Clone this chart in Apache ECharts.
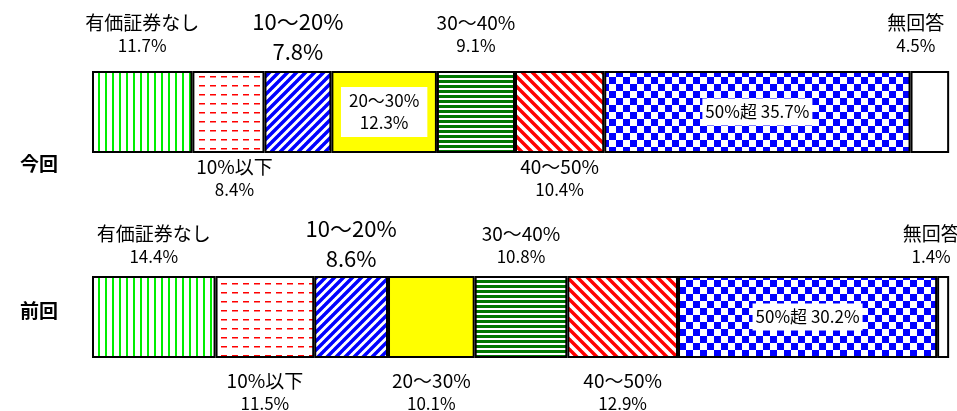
<html lang="ja">
  <head>
    <meta charset="UTF-8" />
    <title>有価証券の割合</title>
    <style>
      html, body { margin: 0; padding: 0; background: #fff; }
    </style>
  </head>
  <body>
    <div id="main" style="width: 957px; height: 411px"></div>

    <script src="https://cdnjs.cloudflare.com/ajax/libs/echarts/6.0.0/echarts.min.js"></script>
    <script>
      let categories = ['今回', '前回']
      let seriesNames = ['有価証券なし', '10%以下', '10～20%', '20～30%', '30～40%', '40～50%', '50%超', '無回答']
      let nowData = [11.7, 8.4, 7.8, 12.3, 9.1, 10.4, 35.7, 4.5]
      let prevData = [14.4, 11.5, 8.6, 10.1, 10.8, 12.9, 30.2, 1.4]
      // ラベルの置き場所
      let nowPlace = ['top', 'bottom', 'top', 'inside', 'top', 'bottom', 'inline', 'top']
      let prevPlace = ['top', 'bottom', 'top', 'bottom', 'top', 'bottom', 'inline', 'top']

      const FONT = '"Noto Sans CJK JP", sans-serif'

      function makeTile(w, h, draw) {
        let c = document.createElement('canvas')
        c.width = w
        c.height = h
        let ctx = c.getContext('2d')
        ctx.fillStyle = '#fff'
        ctx.fillRect(0, 0, w, h)
        draw(ctx, w, h)
        return { image: c, repeat: 'repeat' }
      }

      function diag(ctx, s, color, lw, dir) {
        ctx.strokeStyle = color
        ctx.lineWidth = lw
        ctx.beginPath()
        if (dir > 0) {
          ctx.moveTo(-1, s + 1); ctx.lineTo(s + 1, -1)
          ctx.moveTo(-1, 1); ctx.lineTo(1, -1)
          ctx.moveTo(s - 1, s + 1); ctx.lineTo(s + 1, s - 1)
        } else {
          ctx.moveTo(-1, -1); ctx.lineTo(s + 1, s + 1)
          ctx.moveTo(s - 1, -1); ctx.lineTo(s + 1, 1)
          ctx.moveTo(-1, s - 1); ctx.lineTo(1, s + 1)
        }
        ctx.stroke()
      }

      let fills = [
        makeTile(7, 7, (ctx) => { ctx.fillStyle = '#00ee00'; ctx.fillRect(0, 0, 2, 7) }),
        makeTile(11, 9, (ctx) => { ctx.fillStyle = '#ff0000'; ctx.fillRect(1, 4, 6, 1.5) }),
        makeTile(9, 9, (ctx, s) => diag(ctx, s, '#0000ff', 3.5, 1)),
        '#ffff00',
        makeTile(6, 5, (ctx) => { ctx.fillStyle = '#007800'; ctx.fillRect(0, 0, 6, 3) }),
        makeTile(10, 10, (ctx, s) => diag(ctx, s, '#ff0000', 3.5, -1)),
        makeTile(14, 14, (ctx) => { ctx.fillStyle = '#0000ff'; ctx.fillRect(0, 0, 7, 7); ctx.fillRect(7, 7, 7, 7) }),
        '#ffffff'
      ]

      function labelFor(si, value, place, row) {
        let name = seriesNames[si]
        let big = si === 2
        let rich = {
          n: { fontFamily: FONT, fontSize: big ? 22 : 19, lineHeight: big ? 30 : 23, color: '#000' },
          v: { fontFamily: FONT, fontSize: big ? 22 : 17, lineHeight: big ? 30 : 23, color: '#000' }
        }
        let label = {
          show: true,
          rich: rich,
          formatter: '{n|' + name + '}\n{v|' + value + '%}'
        }
        if (place === 'top') {
          label.position = 'top'
          label.distance = big ? (row === 0 ? 4 : 2) : (row === 0 ? 14 : 8)
          if (si === 7) label.offset = [row === 0 ? -14 : -12, 0]
        } else if (place === 'bottom') {
          label.position = 'bottom'
          label.distance = row === 0 ? 2 : 11
          if (si === 1 && row === 0) label.offset = [6, 0]
        } else if (place === 'inside') {
          label.position = 'inside'
          label.backgroundColor = '#fff'
          label.padding = [3, 8]
          rich.n.fontSize = 17
          rich.n.lineHeight = 22
          rich.v.lineHeight = 22
        } else {
          label.position = 'inside'
          label.backgroundColor = '#fff'
          label.padding = [1, 3]
          label.formatter = '{n|' + name + ' ' + value + '%}'
          rich.n.fontSize = 17
          rich.n.lineHeight = 25
        }
        return label
      }

      let series = seriesNames.map((name, si) => ({
        name: name,
        type: 'bar',
        stack: 'total',
        barWidth: 82,
        itemStyle: { color: fills[si], borderColor: '#000', borderWidth: 2 },
        emphasis: { disabled: true },
        data: [
          { value: nowData[si], label: labelFor(si, nowData[si], nowPlace[si], 0) },
          { value: prevData[si], label: labelFor(si, prevData[si], prevPlace[si], 1) }
        ]
      }))

      let myChart = echarts.init(document.getElementById('main'))
      let option = {
        animation: false,
        grid: { left: 92, top: 112, width: 858, height: 205 },
        xAxis: {
          type: 'value',
          min: 0,
          max: 100,
          show: false
        },
        yAxis: {
          type: 'category',
          inverse: true,
          boundaryGap: false,
          data: categories,
          axisLine: { show: false },
          axisTick: { show: false },
          axisLabel: { show: false }
        },
        graphic: [
          { type: 'text', left: 20, top: 154, style: { text: categories[0], font: 'bold 19px ' + FONT, fill: '#000' } },
          { type: 'text', left: 20, top: 301, style: { text: categories[1], font: 'bold 19px ' + FONT, fill: '#000' } }
        ],
        series: series
      }
      myChart.setOption(option)
    </script>
  </body>
</html>
